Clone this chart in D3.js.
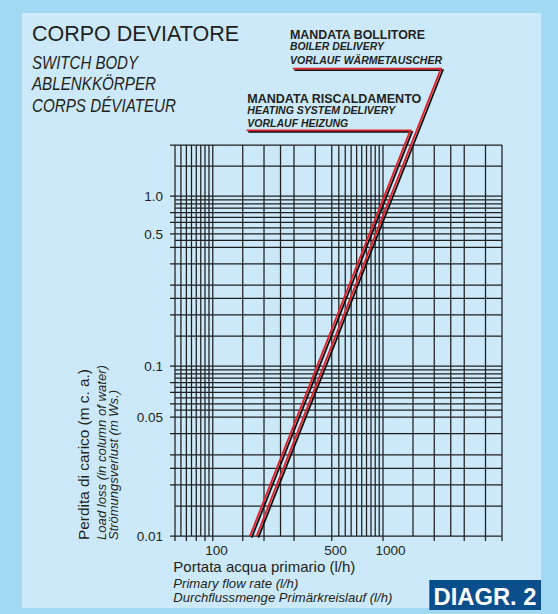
<!DOCTYPE html>
<html>
<head>
<meta charset="utf-8">
<script src="https://cdn.jsdelivr.net/npm/d3@7"></script>
<style>
body { margin: 0; }
text { font-family: "Liberation Sans", Arial, Helvetica, sans-serif; fill: #231f20; }
</style>
</head>
<body>
<div id="vis"></div>
<script>
// grid values (log-log chart)
var xGrid = [60, 65, 70, 75, 80, 85, 90, 95, 100, 150, 200, 250, 300, 400,
  500, 550, 600, 650, 700, 750, 800, 850, 900, 950, 1000, 1500, 2000, 2500, 3000, 4000, 5000];
var xTicked = [60, 70, 80, 90, 100, 150, 200, 300, 500, 1000, 2000, 3000, 4000, 5000];
var xLabels = [100, 500, 1000];

var yGrid = [0.01, 0.015, 0.02, 0.025, 0.03, 0.04, 0.05, 0.055, 0.06, 0.065, 0.07, 0.075,
  0.08, 0.085, 0.09, 0.095, 0.1, 0.15, 0.2, 0.25, 0.3, 0.4, 0.5, 0.55, 0.6, 0.65, 0.7,
  0.75, 0.8, 0.85, 0.9, 0.95, 1.0, 1.5, 2];
var yTicked = [0.01, 0.02, 0.025, 0.03, 0.04, 0.05, 0.06, 0.07, 0.08, 0.1, 0.2, 0.25,
  0.3, 0.4, 0.5, 0.6, 0.7, 0.8, 1.0, 2];
var yLabelText = ["0.01", "0.05", "0.1", "0.5", "1.0"];
var yLabelAt = [0.01, 0.05, 0.1, 0.6, 1.0];

// curves: [flow l/h, loss m c.a.], first two points are the label leader
var heating = [[158, 2.44], [1448, 2.44], [165.5, 0.01]];
var boiler = [[295, 5.63], [2193, 5.63], [181, 0.01]];

var width = 558,
  height = 614;

var svg = d3.select('#vis')
  .append('svg')
  .attr('width', width)
  .attr('height', height);

// frame
svg.append('rect')
  .attr('width', width).attr('height', height)
  .attr('fill', '#a2d9f2');
svg.append('rect')
  .attr('x', 22).attr('y', 13)
  .attr('width', 519).attr('height', 595)
  .attr('fill', '#cce9f9');

var x = d3.scaleLog().domain([60, 5000]).range([175, 502]);
var y = d3.scaleLog().domain([0.01, 2]).range([536, 145]);

var grid = svg.append('g')
  .attr('stroke', '#1f1f1f')
  .attr('stroke-width', 1.25);

grid.selectAll('.vline')
  .data(xGrid)
  .enter().append('line')
  .attr('class', 'vline')
  .attr('x1', function(d) { return x(d); })
  .attr('x2', function(d) { return x(d); })
  .attr('y1', y(2))
  .attr('y2', function(d) { return y(0.01) + (xTicked.indexOf(d) >= 0 ? 5 : 0); });

grid.selectAll('.hline')
  .data(yGrid)
  .enter().append('line')
  .attr('class', 'hline')
  .attr('y1', function(d) { return y(d); })
  .attr('y2', function(d) { return y(d); })
  .attr('x1', function(d) { return x(60) - (yTicked.indexOf(d) >= 0 ? 5 : 0); })
  .attr('x2', x(5000));

// tick labels
svg.selectAll('.ylab')
  .data(yLabelAt)
  .enter().append('text')
  .attr('class', 'ylab')
  .attr('x', 163)
  .attr('y', function(d) { return y(d) + 5; })
  .attr('text-anchor', 'end')
  .style('font-size', '13.5px')
  .text(function(d, i) { return yLabelText[i]; });

svg.selectAll('.xlab')
  .data(xLabels)
  .enter().append('text')
  .attr('class', 'xlab')
  .attr('x', function(d) { return x(d) - 7.5; })
  .attr('y', 555)
  .style('font-size', '13.5px')
  .text(function(d) { return d; });

// curves (black shadow + red line)
var line = d3.line()
  .x(function(d) { return x(d[0]); })
  .y(function(d) { return y(d[1]); });

[heating, boiler].forEach(function(c) {
  svg.append('path')
    .datum(c)
    .attr('transform', 'translate(1.7,1.6)')
    .attr('fill', 'none')
    .attr('stroke', '#111')
    .attr('stroke-width', 1.8)
    .attr('d', line);
  svg.append('path')
    .datum(c)
    .attr('fill', 'none')
    .attr('stroke', '#e4202a')
    .attr('stroke-width', 1.9)
    .attr('d', line);
});

// titles
function label(txt, px, py, size, opts) {
  var t = svg.append('text')
    .attr('x', px).attr('y', py)
    .style('font-size', size + 'px')
    .text(txt);
  if (opts.italic) t.style('font-style', 'italic');
  if (opts.weight) t.style('font-weight', opts.weight);
  if (opts.len) t.attr('textLength', opts.len).attr('lengthAdjust', 'spacingAndGlyphs');
  if (opts.rotate) t.attr('transform', 'rotate(-90,' + px + ',' + py + ')');
  return t;
}

label('CORPO DEVIATORE', 32, 41, 22.5, { weight: 300, len: 207 });
label('SWITCH BODY', 32, 68.5, 18, { italic: true, weight: 300, len: 106 });
label('ABLENKKÖRPER', 32, 90, 18, { italic: true, weight: 300, len: 124 });
label('CORPS DÉVIATEUR', 32, 111.5, 18, { italic: true, weight: 300, len: 144 });

label('MANDATA BOLLITORE', 290, 38.5, 12.5, { weight: 'bold', len: 135 });
label('BOILER DELIVERY', 290, 50, 10.5, { italic: true, weight: 'bold', len: 94 });
label('VORLAUF WÄRMETAUSCHER', 290, 64, 10.5, { italic: true, weight: 'bold', len: 152 });

label('MANDATA RISCALDAMENTO', 247.3, 102.7, 12.5, { weight: 'bold', len: 174 });
label('HEATING SYSTEM DELIVERY', 247.3, 114.2, 10.5, { italic: true, weight: 'bold', len: 148 });
label('VORLAUF HEIZUNG', 247.3, 126.7, 10.5, { italic: true, weight: 'bold', len: 101 });

label('Perdita di carico (m c. a.)', 88.5, 540, 14.5, { rotate: true, len: 171 });
label('Load loss (in column of water)', 105.5, 540, 13, { rotate: true, italic: true, len: 175 });
label('Strömungsverlust (m Ws.)', 117.5, 540, 13, { rotate: true, italic: true, len: 150 });

label('Portata acqua primario (l/h)', 173.3, 572, 15, { len: 182 });
label('Primary flow rate (l/h)', 173.3, 587.7, 13, { italic: true, len: 125 });
label('Durchflussmenge Primärkreislauf (l/h)', 173.3, 601.7, 13, { italic: true, len: 219 });

// badge
svg.append('rect')
  .attr('x', 429.3).attr('y', 580)
  .attr('width', 111.7).attr('height', 30)
  .attr('fill', '#0b4e8c');
label('DIAGR. 2', 433.5, 604.5, 23, { weight: 'bold', len: 103 }).style('fill', '#fff');
</script>
</body>
</html>
